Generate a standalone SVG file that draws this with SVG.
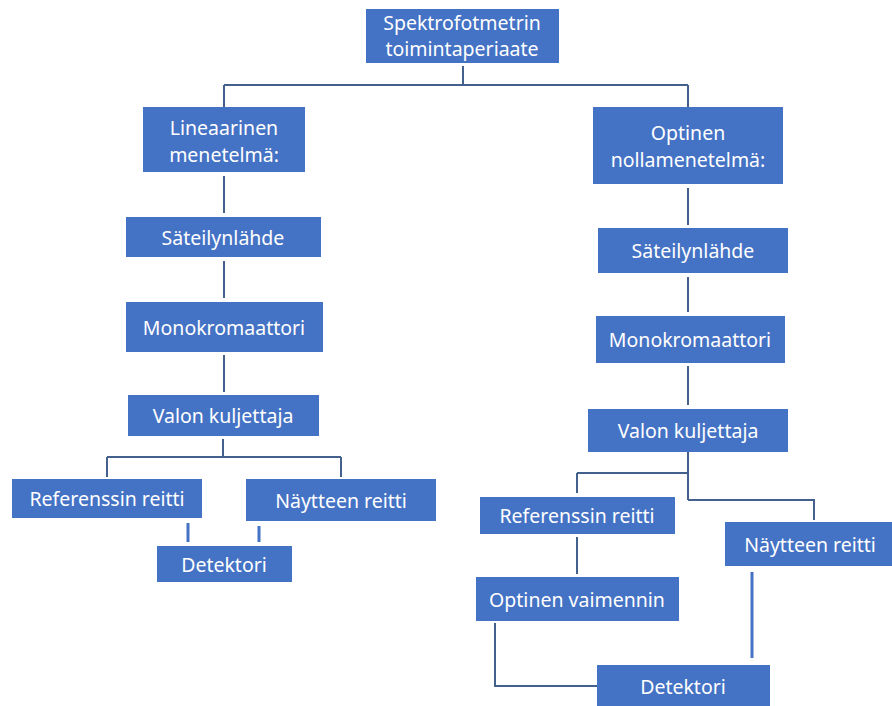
<svg xmlns="http://www.w3.org/2000/svg" width="892" height="706" viewBox="0 0 892 706">
<style>
.n rect{fill:#4472C4;}
.n text{fill:#fff;font-family:"Noto Sans","Open Sans",sans-serif;font-size:19.5px;text-anchor:middle;dominant-baseline:central;}
.c{stroke:#44618E;stroke-width:2;fill:none;}
.c2{stroke:#4472C4;stroke-width:3;fill:none;}
</style>
<rect width="892" height="706" fill="#fff"/>
<g id="connectors">
<path class="c" d="M463 66V85M224 85H688M224 85V107M688 85V107"/>
<path class="c" d="M224 176V213M224 261V298M224 355V392M223 439V457M107 457H341M107 457V477M341 457V477"/>
<path class="c2" d="M188 523V542M259 526V542"/>
<path class="c" d="M688 188V225M688 277V312M688 366V405M688 452V500M577 473H688M577 473V493M688 500H814V520"/>
<path class="c" d="M577 537V574M495 623V686H597"/>
<path class="c2" d="M752 572V658"/>
</g>
<g id="n_top" class="n"><rect x="366" y="9" width="193" height="54"/><text x="462" y="22">Spektrofotmetrin</text><text x="462" y="48">toimintaperiaate</text></g>
<g id="n_lin" class="n"><rect x="143" y="107" width="162" height="65"/><text x="224" y="127">Lineaarinen</text><text x="224" y="154">menetelmä:</text></g>
<g id="n_sat1" class="n"><rect x="126" y="217" width="195" height="40"/><text x="223" y="237">Säteilynlähde</text></g>
<g id="n_mono1" class="n"><rect x="126" y="302" width="197" height="50"/><text x="224" y="327">Monokromaattori</text></g>
<g id="n_valo1" class="n"><rect x="128" y="395" width="191" height="41"/><text x="223" y="415">Valon kuljettaja</text></g>
<g id="n_ref1" class="n"><rect x="12" y="479" width="190" height="39"/><text x="107" y="498">Referenssin reitti</text></g>
<g id="n_nay1" class="n"><rect x="246" y="479" width="190" height="42"/><text x="341" y="500">Näytteen reitti</text></g>
<g id="n_det1" class="n"><rect x="157" y="546" width="135" height="36"/><text x="224" y="564">Detektori</text></g>
<g id="n_opt" class="n"><rect x="593" y="107" width="190" height="77"/><text x="688" y="132">Optinen</text><text x="688" y="159">nollamenetelmä:</text></g>
<g id="n_sat2" class="n"><rect x="598" y="228" width="190" height="45"/><text x="693" y="250">Säteilynlähde</text></g>
<g id="n_mono2" class="n"><rect x="596" y="316" width="189" height="47"/><text x="690" y="339">Monokromaattori</text></g>
<g id="n_valo2" class="n"><rect x="588" y="409" width="200" height="43"/><text x="688" y="430">Valon kuljettaja</text></g>
<g id="n_ref2" class="n"><rect x="480" y="497" width="195" height="37"/><text x="577" y="515">Referenssin reitti</text></g>
<g id="n_vaim" class="n"><rect x="476" y="577" width="203" height="44"/><text x="577" y="599">Optinen vaimennin</text></g>
<g id="n_nay2" class="n"><rect x="725" y="522" width="167" height="44"/><text x="810" y="544">Näytteen reitti</text></g>
<g id="n_det2" class="n"><rect x="597" y="665" width="173" height="41"/><text x="683" y="686">Detektori</text></g>
</svg>
